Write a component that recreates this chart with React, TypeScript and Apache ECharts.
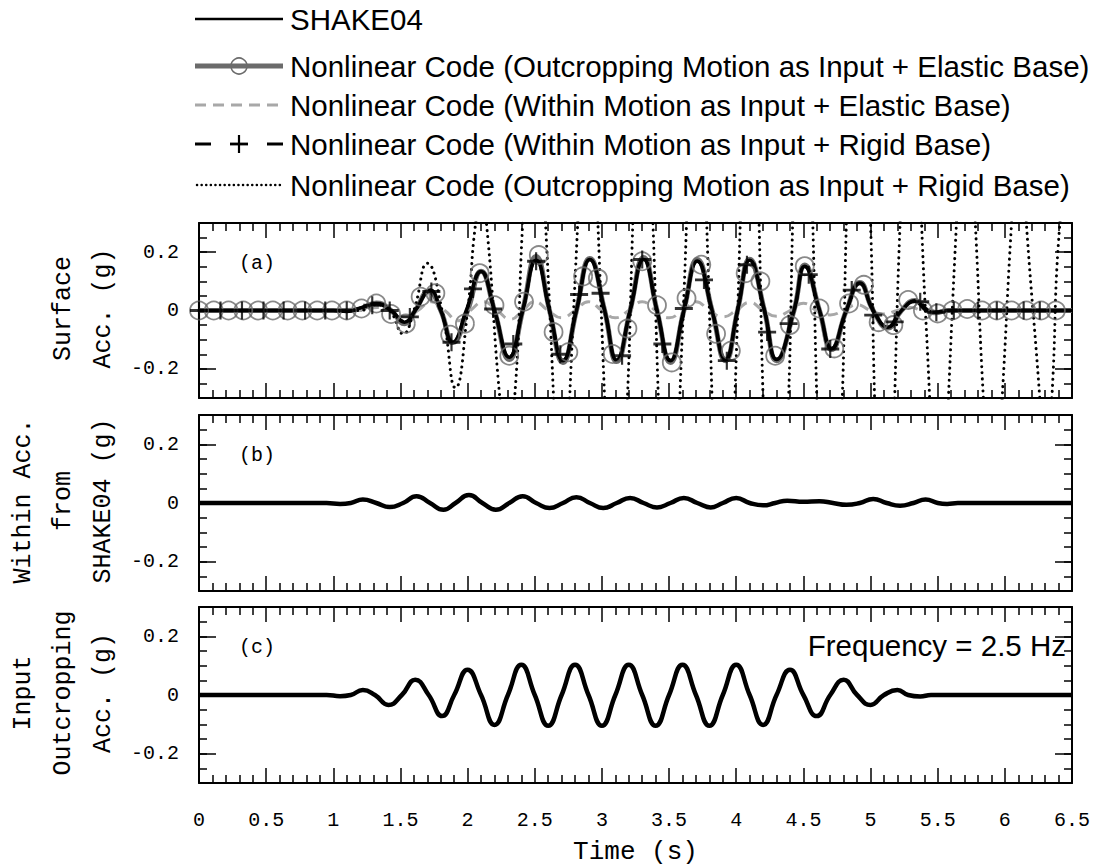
import React, { useEffect, useRef } from "react";
import * as echarts from "echarts";

// ---- axis ranges and tick labels ----
const TIME_MIN = 0;
const TIME_MAX = 6.5;
const TIME_STEP = 0.5;
const ACC_MIN = -0.3;
const ACC_MAX = 0.3;
const accTickValues = [-0.2, 0, 0.2];

// ---- legend entries ----
const legendLabels = [
  "SHAKE04",
  "Nonlinear Code (Outcropping Motion as Input + Elastic Base)",
  "Nonlinear Code (Within Motion as Input + Elastic Base)",
  "Nonlinear Code (Within Motion as Input + Rigid Base)",
  "Nonlinear Code (Outcropping Motion as Input + Rigid Base)",
];

// ---- panel (a): surface acceleration, [time s, acc g] ----
const shake04Surface: [number, number][] = [
  [0, 0], [1.0, 0], [1.1, -0.003], [1.21, 0.01], [1.32, 0.024], [1.43, 0], [1.53, -0.04],
  [1.61, 0], [1.72, 0.07], [1.8, 0], [1.89, -0.11], [1.99, 0], [2.1, 0.134], [2.2, 0],
  [2.31, -0.16], [2.41, 0], [2.51, 0.172], [2.61, 0], [2.71, -0.172], [2.81, 0], [2.91, 0.175],
  [3.02, 0], [3.11, -0.17], [3.21, 0], [3.31, 0.175], [3.41, 0], [3.51, -0.172], [3.61, 0],
  [3.71, 0.17], [3.82, 0], [3.92, -0.168], [4.01, 0], [4.1, 0.172], [4.21, 0], [4.3, -0.168],
  [4.43, 0], [4.51, 0.152], [4.62, 0], [4.71, -0.13], [4.82, 0], [4.92, 0.094], [5.02, 0],
  [5.13, -0.057], [5.23, 0], [5.33, 0.032], [5.42, 0], [5.48, -0.006], [5.58, 0], [6.5, 0],
];

const outcropElasticSurface: [number, number][] = [
  [0, 0], [1.0, 0], [1.1, 0], [1.21, 0.007], [1.32, 0.026], [1.43, 0], [1.53, -0.045],
  [1.61, 0], [1.71, 0.065], [1.8, 0], [1.89, -0.11], [2.0, 0], [2.1, 0.135], [2.2, 0],
  [2.31, -0.168], [2.41, 0], [2.51, 0.185], [2.61, 0], [2.71, -0.178], [2.81, 0], [2.91, 0.178],
  [3.02, 0], [3.11, -0.175], [3.21, 0], [3.31, 0.182], [3.41, 0], [3.51, -0.178], [3.61, 0],
  [3.71, 0.175], [3.82, 0], [3.92, -0.172], [4.01, 0], [4.1, 0.176], [4.21, 0], [4.3, -0.172],
  [4.43, 0], [4.51, 0.156], [4.62, 0], [4.71, -0.134], [4.82, 0], [4.92, 0.096], [5.02, 0],
  [5.13, -0.06], [5.23, 0], [5.33, 0.034], [5.42, 0], [5.48, -0.008], [5.58, 0], [6.5, 0],
];

const withinElasticSurface: [number, number][] = [
  [0, 0], [1.2, 0], [1.33, 0.01], [1.43, 0], [1.54, -0.02], [1.63, 0], [1.73, 0.03],
  [1.83, 0], [1.93, -0.035], [2.02, 0], [2.12, 0.03], [2.22, 0], [2.32, -0.03], [2.41, 0],
  [2.5, 0.03], [2.6, 0], [2.7, -0.025], [2.8, 0], [2.9, 0.03], [3.0, 0], [3.1, -0.025],
  [3.2, 0], [3.3, 0.03], [3.4, 0], [3.5, -0.025], [3.6, 0], [3.7, 0.03], [3.8, 0],
  [3.9, -0.022], [4.0, 0], [4.1, 0.028], [4.2, 0], [4.3, -0.02], [4.4, 0], [4.5, 0.025],
  [4.6, 0], [4.7, -0.015], [4.8, 0], [4.9, 0.02], [5.0, 0], [5.1, -0.012], [5.2, 0],
  [5.3, 0.01], [5.4, 0], [6.5, 0],
];

const withinRigidSurface: [number, number][] = [
  [0, 0], [1.0, 0], [1.1, -0.002], [1.21, 0.01], [1.31, 0.022], [1.43, 0], [1.53, -0.038],
  [1.61, 0], [1.72, 0.068], [1.8, 0], [1.89, -0.11], [1.99, 0], [2.1, 0.132], [2.2, 0],
  [2.31, -0.158], [2.41, 0], [2.51, 0.17], [2.61, 0], [2.71, -0.17], [2.81, 0], [2.91, 0.174],
  [3.02, 0], [3.11, -0.168], [3.21, 0], [3.31, 0.176], [3.41, 0], [3.51, -0.17], [3.61, 0],
  [3.71, 0.168], [3.82, 0], [3.92, -0.17], [4.01, 0], [4.1, 0.17], [4.21, 0], [4.3, -0.166],
  [4.43, 0], [4.51, 0.15], [4.62, 0], [4.71, -0.132], [4.82, 0], [4.92, 0.092], [5.02, 0],
  [5.13, -0.055], [5.23, 0], [5.34, 0.034], [5.43, 0], [5.49, -0.006], [5.58, 0], [6.5, 0],
];

// off-scale resonance: extremes lie outside the axis range, crossings of +-0.3 are kept
const outcropRigidSurface: [number, number][] = [
  [0, 0], [1.2, 0], [1.32, 0.02], [1.42, 0], [1.52, -0.08], [1.6, 0], [1.7, 0.162],
  [1.81, 0], [1.91, -0.265], [2.0, 0], [2.06, 0.3], [2.1, 0.37], [2.14, 0.3], [2.24, -0.3],
  [2.29, -0.45], [2.35, -0.3], [2.41, 0.3], [2.5, 1.0], [2.58, 0.3], [2.64, -0.3], [2.7, -1.0],
  [2.76, -0.3], [2.82, 0.3], [2.9, 1.1], [2.97, 0.3], [3.02, -0.3], [3.1, -1.2], [3.19, -0.3],
  [3.23, 0.3], [3.3, 1.3], [3.38, 0.3], [3.42, -0.3], [3.5, -1.35], [3.58, -0.3], [3.63, 0.3],
  [3.7, 1.4], [3.78, 0.3], [3.82, -0.3], [3.9, -1.45], [3.99, -0.3], [4.03, 0.3], [4.1, 1.5],
  [4.17, 0.3], [4.2, -0.3], [4.29, -1.55], [4.39, -0.3], [4.42, 0.3], [4.49, 1.6], [4.57, 0.3],
  [4.6, -0.3], [4.69, -1.6], [4.79, -0.3], [4.82, 0.3], [4.9, 1.6], [5.0, 0.3], [5.03, -0.3],
  [5.11, -1.55], [5.18, -0.3], [5.22, 0.3], [5.31, 1.3], [5.38, 0.3], [5.44, -0.3],
  [5.51, -1.05], [5.58, -0.3], [5.64, 0.3], [5.71, 0.9], [5.78, 0.3], [5.84, -0.3],
  [5.91, -0.8], [5.98, -0.3], [6.05, 0.3], [6.11, 0.7], [6.16, 0.3], [6.26, -0.3], [6.3, -0.6],
  [6.35, -0.3], [6.41, 0.3], [6.5, 0.6],
];

// marker positions on the two marked curves
const circleMarkTimes = [
  0, 0.11, 0.22, 0.33, 0.44, 0.55, 0.66, 0.77, 0.88, 0.99, 1.1, 1.21, 1.32, 1.43, 1.54,
  1.65, 1.76, 1.87, 1.98, 2.09, 2.2, 2.31, 2.42, 2.53, 2.64, 2.75, 2.86, 2.97, 3.08, 3.19,
  3.3, 3.41, 3.52, 3.63, 3.74, 3.85, 3.96, 4.07, 4.18, 4.29, 4.4, 4.51, 4.62, 4.73, 4.84,
  4.95, 5.06, 5.17, 5.28, 5.39, 5.5, 5.61, 5.72, 5.83, 5.94, 6.05, 6.16, 6.27, 6.38,
];
const circleMarkValues = [
  0, 0, 0, 0, 0, 0, 0, 0, 0, 0, 0, 0.007, 0.024, -0.012, -0.045,
  0.047, 0.059, -0.083, -0.045, 0.128, 0.018, -0.155, 0.03, 0.19, -0.074, -0.143, 0.117, 0.11, -0.149, -0.062,
  0.169, 0.018, -0.178, 0.042, 0.157, -0.08, -0.138, 0.128, 0.1, -0.155, -0.05, 0.152, 0.007, -0.13, 0.024,
  0.088, -0.04, -0.05, 0.036, 0, -0.01, 0, 0.005, 0, 0, 0, 0, 0, 0,
];
const plusMarkTimes = [
  0, 0.16, 0.32, 0.48, 0.63, 0.79, 0.94, 1.1, 1.29, 1.42, 1.57, 1.73, 1.88, 2.04, 2.19,
  2.34, 2.51, 2.69, 2.83, 2.99, 3.15, 3.3, 3.45, 3.61, 3.76, 3.93, 4.08, 4.23, 4.39, 4.54,
  4.7, 4.86, 5.02, 5.18, 5.37, 5.49, 5.62, 5.8, 5.94, 6.14, 6.26,
];
const plusMarkValues = [
  0, 0, 0, 0, 0, 0, 0, 0, 0.018, 0, -0.022, 0.065, -0.109, 0.074, 0.005,
  -0.115, 0.169, -0.15, 0.055, 0.059, -0.155, 0.175, -0.115, 0.007, 0.105, -0.172, 0.157, -0.074, -0.045, 0.123,
  -0.132, 0.07, -0.016, -0.039, 0.03, -0.006, 0, 0, 0, 0, 0,
];

// ---- panel (b): within motion from SHAKE04 ----
const withinShake04: [number, number][] = [
  [0, 0], [0.95, 0], [1.05, -0.003], [1.13, 0], [1.22, 0.012], [1.32, 0], [1.42, -0.014],
  [1.52, 0], [1.62, 0.023], [1.72, 0], [1.82, -0.023], [1.91, 0], [2.01, 0.027], [2.11, 0],
  [2.21, -0.023], [2.31, 0], [2.41, 0.023], [2.51, 0], [2.61, -0.017], [2.71, 0], [2.81, 0.02],
  [2.91, 0], [3.01, -0.017], [3.11, 0], [3.21, 0.017], [3.31, 0], [3.41, -0.015], [3.51, 0],
  [3.61, 0.017], [3.71, 0], [3.81, -0.015], [3.9, 0], [4.0, 0.017], [4.1, 0], [4.2, -0.008],
  [4.29, 0], [4.38, 0.008], [4.5, 0.004], [4.62, 0.006], [4.72, 0], [4.82, -0.006], [4.92, 0],
  [5.02, 0.014], [5.12, 0], [5.22, -0.009], [5.32, 0], [5.41, 0.012], [5.5, 0], [5.57, -0.003],
  [5.65, 0], [6.5, 0],
];

// ---- panel (c): input outcropping motion, 2.5 Hz ----
const inputOutcrop: [number, number][] = [
  [0, 0], [0.95, 0], [1.05, -0.004], [1.13, 0], [1.22, 0.017], [1.31, 0], [1.41, -0.034],
  [1.51, 0], [1.61, 0.052], [1.71, 0], [1.81, -0.072], [1.9, 0], [2.0, 0.086], [2.1, 0],
  [2.2, -0.102], [2.3, 0], [2.4, 0.103], [2.5, 0], [2.6, -0.105], [2.7, 0], [2.8, 0.103],
  [2.9, 0], [3.0, -0.105], [3.1, 0], [3.2, 0.103], [3.3, 0], [3.4, -0.105], [3.5, 0],
  [3.6, 0.103], [3.7, 0], [3.8, -0.105], [3.9, 0], [4.0, 0.103], [4.1, 0], [4.2, -0.102],
  [4.3, 0], [4.4, 0.086], [4.5, 0], [4.6, -0.072], [4.7, 0], [4.8, 0.052], [4.9, 0],
  [5.0, -0.034], [5.1, 0], [5.2, 0.017], [5.28, 0], [5.37, -0.005], [5.45, 0], [6.5, 0],
];

const panelLetters = ["(a)", "(b)", "(c)"];
const panelTitles = [
  ["Surface", "Acc. (g)"],
  ["Within Acc.", "from", "SHAKE04 (g)"],
  ["Input", "Outcropping", "Acc. (g)"],
];
const frequencyNote = "Frequency = 2.5 Hz";
const timeTitle = "Time (s)";

// ---- layout ----
const MONO = '"Liberation Mono", "DejaVu Sans Mono", monospace';
const SANS = '"Liberation Sans", Arial, sans-serif';
const PLOT_LEFT = 199;
const PLOT_WIDTH = 873;
const panels = [
  { top: 223, height: 175 },
  { top: 415, height: 176 },
  { top: 607, height: 176 },
];
const GRAY_DARK = "#6b6b6b";
const GRAY_LIGHT = "#a8a8a8";
const PLUS_PATH = "path://M0,4.2H10V5.8H0Z M4.4,0H5.6V10H4.4Z";

const tickLine = { color: "#000", width: 1.5 };
const fmtAcc = (v: number) => (Math.abs(v) < 1e-9 ? "0" : v.toFixed(1));

function xAxes(i: number) {
  const base = (pos: "top" | "bottom", labels: boolean) => ({
    type: "value",
    gridIndex: i,
    position: pos,
    min: TIME_MIN,
    max: TIME_MAX,
    interval: TIME_STEP,
    axisLine: { show: true, onZero: false, lineStyle: { color: "#000", width: 2 } },
    axisTick: { show: true, inside: true, length: 15, lineStyle: tickLine },
    minorTick: { show: true, splitNumber: 5, length: 8, lineStyle: tickLine },
    axisLabel: {
      show: labels,
      margin: 27,
      fontFamily: MONO,
      fontSize: 20,
      color: "#000",
      formatter: (v: number) => String(v),
    },
    splitLine: { show: false },
    minorSplitLine: { show: false },
  });
  return [base("bottom", i === 2), base("top", false)];
}

function yAxes(i: number) {
  const minor = (pos: "left" | "right") => ({
    type: "value",
    gridIndex: i,
    position: pos,
    min: ACC_MIN,
    max: ACC_MAX,
    interval: 0.05,
    axisLine: { show: true, onZero: false, lineStyle: { color: "#000", width: 2 } },
    axisTick: { show: true, inside: true, length: 8, lineStyle: tickLine },
    axisLabel: {
      show: pos === "left",
      customValues: accTickValues,
      margin: 20,
      fontFamily: MONO,
      fontSize: 20,
      color: "#000",
      formatter: fmtAcc,
    },
    splitLine: { show: false },
  });
  const major = (pos: "left" | "right") => ({
    type: "value",
    gridIndex: i,
    position: pos,
    min: ACC_MIN,
    max: ACC_MAX,
    interval: 0.05,
    axisLine: { show: false, onZero: false },
    axisTick: { show: true, inside: true, length: 17, customValues: accTickValues, lineStyle: tickLine },
    axisLabel: { show: false },
    splitLine: { show: false },
  });
  return [minor("left"), major("left"), minor("right"), major("right")];
}

function curve(name: string, data: [number, number][], grid: number, lineStyle: any, z: number) {
  return {
    type: "line",
    name,
    data,
    xAxisIndex: grid * 2,
    yAxisIndex: grid * 4,
    smooth: 0.5,
    symbol: "none",
    showSymbol: false,
    clip: true,
    silent: true,
    lineStyle,
    z,
  };
}

function markers(name: string, times: number[], values: number[], symbol: string, size: number, itemStyle: any, z: number) {
  return {
    type: "scatter",
    name,
    data: times.map((t, k) => [t, values[k]]),
    xAxisIndex: 0,
    yAxisIndex: 0,
    symbol,
    symbolSize: size,
    itemStyle,
    clip: true,
    silent: true,
    z,
  };
}

function legendGraphics() {
  const rowsY = [19, 66, 105, 144, 185];
  const x0 = 195;
  const x1 = 283;
  const xm = (x0 + x1) / 2;
  const els: any[] = [];
  const ln = (xa: number, xb: number, y: number, style: any) => ({
    type: "line",
    shape: { x1: xa, y1: y, x2: xb, y2: y },
    style,
  });
  let y = rowsY[0];
  els.push(ln(x0, x1, y, { stroke: "#000", lineWidth: 2.5 }));
  y = rowsY[1];
  els.push(ln(x0, x1, y, { stroke: GRAY_DARK, lineWidth: 5 }));
  els.push({ type: "circle", shape: { cx: xm, cy: y, r: 8 }, style: { fill: "none", stroke: GRAY_DARK, lineWidth: 1.6 } });
  y = rowsY[2];
  els.push(ln(x0, x1, y, { stroke: GRAY_LIGHT, lineWidth: 3, lineDash: [11, 7] }));
  y = rowsY[3];
  els.push(ln(x0, x0 + 16, y, { stroke: "#000", lineWidth: 3 }));
  els.push(ln(x1 - 16, x1, y, { stroke: "#000", lineWidth: 3 }));
  els.push(ln(xm - 9, xm + 9, y, { stroke: "#000", lineWidth: 2.8 }));
  els.push({ type: "line", shape: { x1: xm, y1: y - 9, x2: xm, y2: y + 9 }, style: { stroke: "#000", lineWidth: 2.2 } });
  y = rowsY[4];
  els.push(ln(x0 + 2, x1, y, { stroke: "#000", lineWidth: 2.5, lineDash: [0.1, 4.5], lineCap: "round" }));
  legendLabels.forEach((txt, k) => {
    els.push({
      type: "text",
      x: 290,
      y: rowsY[k],
      style: { text: txt, fontFamily: SANS, fontSize: 29.5, fill: "#000", align: "left", verticalAlign: "middle" },
    });
  });
  return els;
}

function titleGraphics() {
  const els: any[] = [];
  const cols = [23, 63, 103];
  panels.forEach((p, i) => {
    const lines = panelTitles[i];
    const cy = p.top + p.height / 2 - 2;
    lines.forEach((txt, k) => {
      const col = cols[cols.length - lines.length + k];
      els.push({
        type: "text",
        x: col,
        y: cy,
        rotation: Math.PI / 2,
        style: { text: txt, fontFamily: MONO, fontSize: 25, fill: "#000", align: "center", verticalAlign: "middle" },
      });
    });
    els.push({
      type: "text",
      x: 239,
      y: p.top + 40,
      style: { text: panelLetters[i], fontFamily: MONO, fontSize: 20, fill: "#000", align: "left", verticalAlign: "middle" },
    });
  });
  els.push({
    type: "text",
    x: 1066,
    y: panels[2].top + 38,
    style: { text: frequencyNote, fontFamily: SANS, fontSize: 29.5, fill: "#000", align: "right", verticalAlign: "middle" },
  });
  els.push({
    type: "text",
    x: PLOT_LEFT + PLOT_WIDTH / 2,
    y: 852,
    style: { text: timeTitle, fontFamily: MONO, fontSize: 26, fill: "#000", align: "center", verticalAlign: "middle" },
  });
  return els;
}

function buildOption() {
  return {
    animation: false,
    backgroundColor: "#fff",
    grid: panels.map((p) => ({
      left: PLOT_LEFT,
      width: PLOT_WIDTH,
      top: p.top,
      height: p.height,
      containLabel: false,
      outerBoundsMode: "none",
    })),
    xAxis: [0, 1, 2].flatMap((i) => xAxes(i)),
    yAxis: [0, 1, 2].flatMap((i) => yAxes(i)),
    series: [
      curve(legendLabels[1], outcropElasticSurface, 0, { color: GRAY_DARK, width: 5 }, 2),
      curve(legendLabels[2], withinElasticSurface, 0, { color: GRAY_LIGHT, width: 3, type: [10, 7] }, 3),
      curve(legendLabels[0], shake04Surface, 0, { color: "#000", width: 3.5 }, 4),
      curve(legendLabels[3], withinRigidSurface, 0, { color: "#000", width: 3, type: [14, 8] }, 5),
      curve(legendLabels[4], outcropRigidSurface, 0, { color: "#000", width: 3, type: [0.1, 6], cap: "round" }, 6),
      markers(legendLabels[1], circleMarkTimes, circleMarkValues, "circle", 18,
        { color: "rgba(0,0,0,0)", borderColor: GRAY_DARK, borderWidth: 1.8 }, 7),
      markers(legendLabels[3], plusMarkTimes, plusMarkValues, PLUS_PATH, 18, { color: "#000" }, 8),
      curve("Within motion from SHAKE04", withinShake04, 1, { color: "#000", width: 4.5 }, 4),
      curve("Input outcropping motion", inputOutcrop, 2, { color: "#000", width: 4.5 }, 4),
    ],
    graphic: [...legendGraphics(), ...titleGraphics()],
  };
}

export default function App() {
  const ref = useRef<HTMLDivElement>(null);
  useEffect(() => {
    if (!ref.current) return;
    const chart = echarts.init(ref.current, null, { renderer: "svg" });
    chart.setOption(buildOption() as any);
    return () => chart.dispose();
  }, []);
  return (
    <div
      ref={ref}
      style={{ position: "absolute", left: 0, top: 0, width: 1100, height: 867, background: "#fff" }}
    />
  );
}
